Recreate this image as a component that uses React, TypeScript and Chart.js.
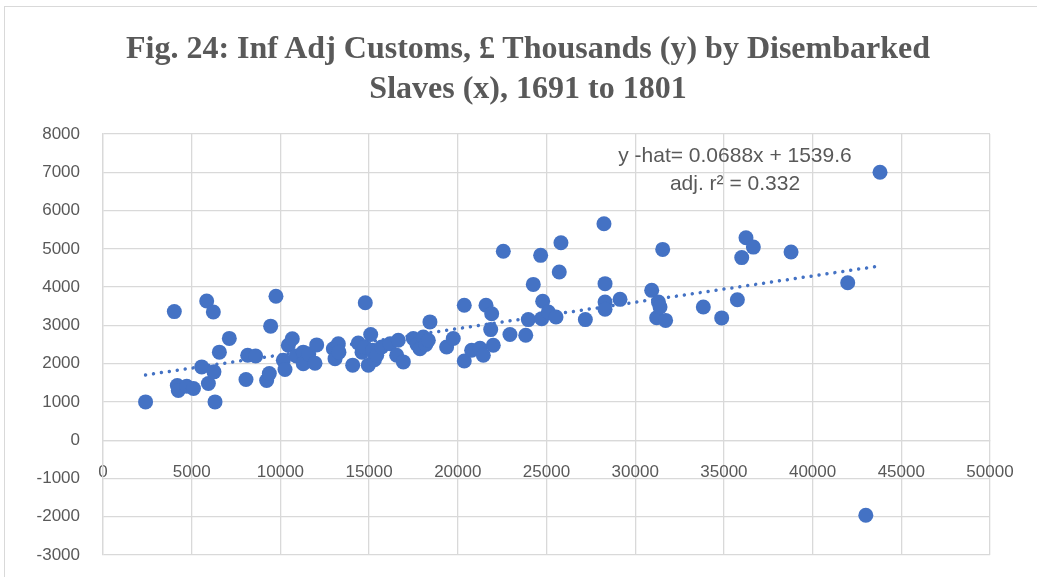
import React, { useEffect, useRef } from "react";
import { Chart, registerables } from "chart.js";

Chart.register(...registerables);

// Disembarked slaves (x) and inflation-adjusted customs, £ thousands (y)
const slavesX = [
  2400, 4020, 4190, 4245, 4720, 5100, 5565, 5845, 5940, 6220,
  6255, 6315, 6560, 7120, 8060, 8155, 8605, 9225, 9375, 9450,
  9750, 10165, 10260, 10445, 10670, 10900, 11290, 11290, 11600, 11950,
  12045, 12985, 13080, 13265, 13300, 14075, 14390, 14600, 14770, 14785,
  14955, 15090, 15200, 15300, 15430, 15710, 16180, 16555, 16645, 16930,
  17490, 17700, 17870, 18055, 18200, 18340, 18430, 19370, 19745, 20365,
  20365, 20780, 21250, 21440, 21590, 21855, 21910, 22000, 22565, 22940,
  23830, 23975, 24255, 24670, 24730, 24785, 25105, 25535, 25720, 25815,
  27190, 28240, 28300, 28300, 28300, 29145, 30930, 31210, 31310, 31400,
  31550, 31715, 33840, 34875, 35760, 36005, 36245, 36660, 38785, 41980,
  43000, 43800,
];
const customsY = [
  1000, 3360, 1430, 1300, 1410, 1350, 1915, 3635, 1480, 3350,
  1785, 1000, 2300, 2660, 1585, 2220, 2200, 1560, 1740, 2980,
  3760, 2090, 1845, 2480, 2650, 2200, 2300, 2000, 2250, 2010,
  2490, 2390, 2130, 2520, 2300, 1960, 2540, 2300, 2435, 3590,
  1960, 2760, 2350, 2100, 2220, 2435, 2520, 2220, 2610, 2045,
  2655, 2500, 2390, 2695, 2500, 2610, 3090, 2435, 2655, 3525,
  2070, 2350, 2400, 2220, 3525, 2890, 3305, 2480, 4935, 2760,
  2740, 3150, 4070, 4830, 3175, 3630, 3350, 3220, 4395, 5160,
  3150, 5655, 4090, 3610, 3420, 3680, 3915, 3200, 3610, 3480,
  4985, 3130, 3480, 3195, 3670, 4770, 5290, 5045, 4915, 4115,
  -1960, 7000,
];

// Fitted trend line end points (y-hat at the first and last x)
const trendX = [2400, 43800];
const trendY = [1705, 4553];

const titleLines = [
  "Fig. 24: Inf Adj Customs, £ Thousands (y) by Disembarked",
  "Slaves (x), 1691 to 1801",
];
const annotationLines = ["y -hat= 0.0688x + 1539.6", "adj. r\u00B2 = 0.332"];

const TEXT = "#595959";
const GRID = "#d9d9d9";
const BLUE = "#4472C4";

export default function App() {
  const canvasRef = useRef<HTMLCanvasElement | null>(null);

  useEffect(() => {
    if (!canvasRef.current) return;
    const points = slavesX.map((x, i) => ({ x, y: customsY[i] }));
    const trend = trendX.map((x, i) => ({ x, y: trendY[i] }));
    const plain = (v: any) => String(v);
    const chart = new Chart(canvasRef.current, {
      type: "scatter",
      data: {
        datasets: [
          {
            label: "Customs",
            data: points,
            backgroundColor: BLUE,
            borderColor: BLUE,
            pointRadius: 7.5,
            pointBorderWidth: 0,
            order: 0,
          },
          {
            type: "line",
            label: "Trend",
            data: trend,
            borderColor: BLUE,
            borderWidth: 3.5,
            borderDash: [0.01, 8],
            borderCapStyle: "round",
            pointRadius: 0,
            fill: false,
            order: 1,
          } as any,
        ],
      },
      options: {
        responsive: false,
        animation: false,
        devicePixelRatio: 1,
        layout: { padding: { top: 134, bottom: 22, right: 47, left: 0 } },
        plugins: {
          legend: { display: false },
          title: { display: false },
          tooltip: { enabled: false },
        },
        scales: {
          x: {
            type: "linear",
            position: { y: 0 } as any,
            min: 0,
            max: 50000,
            ticks: {
              stepSize: 5000,
              color: TEXT,
              font: { family: "Liberation Sans", size: 17 },
              padding: 0,
              maxRotation: 0,
              autoSkip: false,
              callback: plain,
            },
            grid: {
              color: GRID,
              lineWidth: 1.3,
              drawTicks: true,
              tickLength: 22,
              tickColor: "rgba(0,0,0,0)",
            },
            border: { color: GRID, width: 1.3 },
          },
          y: {
            type: "linear",
            min: -3000,
            max: 8000,
            ticks: {
              stepSize: 1000,
              color: TEXT,
              font: { family: "Liberation Sans", size: 17 },
              padding: 0,
              callback: plain,
            },
            grid: {
              color: GRID,
              lineWidth: 1.3,
              drawTicks: true,
              tickLength: 23,
              tickColor: "rgba(0,0,0,0)",
            },
            border: { color: GRID, width: 1.3 },
            afterFit: (scale: any) => {
              scale.width = 103;
            },
          },
        },
      },
    });
    return () => chart.destroy();
  }, []);

  return (
    <div
      style={{
        position: "absolute",
        left: 0,
        top: 0,
        width: 1037,
        height: 577,
        overflow: "hidden",
        background: "#ffffff",
      }}
    >
      <div
        style={{
          position: "absolute",
          left: 4,
          top: 6,
          width: 1200,
          height: 800,
          border: "1px solid #d9d9d9",
        }}
      />
      <canvas
        ref={canvasRef}
        width={1037}
        height={577}
        style={{ position: "absolute", left: 0, top: 0, width: 1037, height: 577 }}
      />
      <div
        style={{
          position: "absolute",
          left: 0,
          top: 27,
          width: 1056,
          textAlign: "center",
          fontFamily: "'Liberation Serif', serif",
          fontWeight: "bold",
          fontSize: 32,
          lineHeight: "40px",
          color: TEXT,
          whiteSpace: "nowrap",
        }}
      >
        {titleLines.map((t, i) => (
          <div key={i}>{t}</div>
        ))}
      </div>
      <div
        style={{
          position: "absolute",
          left: 535,
          top: 141,
          width: 400,
          textAlign: "center",
          fontFamily: "'Liberation Sans', sans-serif",
          fontSize: 21,
          lineHeight: "28px",
          color: TEXT,
          whiteSpace: "nowrap",
        }}
      >
        {annotationLines.map((t, i) => (
          <div key={i}>{t}</div>
        ))}
      </div>
    </div>
  );
}
